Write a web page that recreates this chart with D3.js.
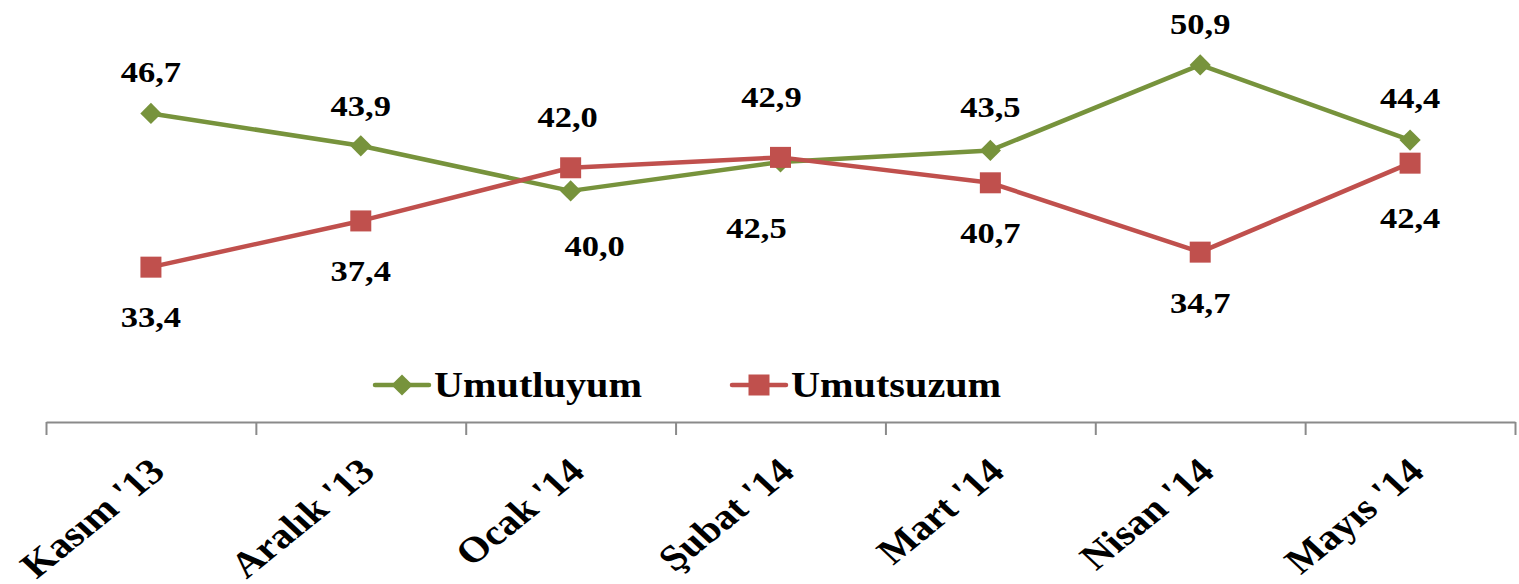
<!DOCTYPE html>
<html>
<head>
<meta charset="utf-8">
<script src="https://cdn.jsdelivr.net/npm/d3@7"></script>
<style>
  body { margin: 0; background: #fff; }
  text { font-family: "Liberation Serif", "Times New Roman", serif; font-weight: bold; fill: #000; }
</style>
</head>
<body>
<div id="chart-area"></div>
<script>
// data
var months = ["Kasım '13", "Aralık '13", "Ocak '14", "Şubat '14", "Mart '14", "Nisan '14", "Mayıs '14"];
var umutluyum = [46.7, 43.9, 40.0, 42.5, 43.5, 50.9, 44.4];
var umutsuzum = [33.4, 37.4, 42.0, 42.9, 40.7, 34.7, 42.4];
var seriesNames = ["Umutluyum", "Umutsuzum"];

// label placement (dx, dy from point)
var greenLabelPos = [[0, -31], [0, -30], [24, 65], [-24, 76], [0, -33], [0, -31], [0, -32]];
var redLabelPos = [[0, 60], [0, 60], [-3, -41], [-9, -50], [0, 60], [0, 61], [0, 65]];

var width = 1519, height = 584;
var axisY = 422;
var stretch = 1.15;

var svg = d3.select("#chart-area")
    .append("svg")
    .attr("width", width)
    .attr("height", height);

var x = d3.scalePoint()
    .domain(months)
    .range([46, 1515])
    .padding(0.5);

var xEdges = d3.scaleLinear()
    .domain([0, months.length])
    .range([46, 1515]);

var y = d3.scaleLinear()
    .domain([20, 56])
    .range([axisY, 6]);

// x axis with ticks between categories
var axisCall = d3.axisBottom(xEdges)
    .tickValues(d3.range(months.length + 1))
    .tickSize(13)
    .tickSizeOuter(0)
    .tickFormat("");
var ax = svg.append("g")
    .attr("class", "x axis")
    .attr("transform", "translate(0," + axisY + ")")
    .call(axisCall);
ax.selectAll("path, line").attr("stroke", "#8a8a8a").attr("stroke-width", 2);

svg.append("g")
    .selectAll("text")
    .data(months)
    .enter()
    .append("text")
    .attr("text-anchor", "end")
    .attr("transform", d => "translate(" + (x(d) + 16) + ",474) scale(" + stretch + ",1) rotate(-43)")
    .attr("style", "font-size: 36px")
    .text(d => d);

var series = [
    { name: seriesNames[0], values: umutluyum, color: "#77933C", symbol: "diamond", pos: greenLabelPos },
    { name: seriesNames[1], values: umutsuzum, color: "#C0504D", symbol: "square", pos: redLabelPos }
];

var line = d3.line()
    .x((d, i) => x(months[i]))
    .y(d => y(d));

function marker(g, type, color) {
    if (type == "diamond") {
        g.append("rect")
            .attr("x", -7.5).attr("y", -7.5)
            .attr("width", 15).attr("height", 15)
            .attr("transform", "rotate(45)")
            .attr("fill", color);
    } else {
        g.append("rect")
            .attr("x", -10.5).attr("y", -10.5)
            .attr("width", 21).attr("height", 21)
            .attr("fill", color);
    }
}

series.forEach(s => {
    svg.append("path")
        .attr("d", line(s.values))
        .attr("fill", "none")
        .attr("stroke", s.color)
        .attr("stroke-width", 4.5)
        .attr("stroke-linejoin", "round");
});

series.forEach(s => {
    s.values.forEach((v, i) => {
        var m = svg.append("g")
            .attr("transform", "translate(" + x(months[i]) + "," + y(v) + ")");
        marker(m, s.symbol, s.color);
    });
});

series.forEach(s => {
    svg.append("g")
        .selectAll("text")
        .data(s.values)
        .enter()
        .append("text")
        .attr("text-anchor", "middle")
        .attr("transform", (d, i) => "translate(" + (x(months[i]) + s.pos[i][0]) + "," + (y(d) + s.pos[i][1]) + ") scale(" + stretch + ",1)")
        .attr("style", "font-size: 30px")
        .text(d => d.toFixed(1).replace(".", ","));
});

// legend
var legendX = [375, 732];
series.forEach((s, k) => {
    var lg = svg.append("g")
        .attr("transform", "translate(" + legendX[k] + ",385)");
    lg.append("line")
        .attr("x1", 0).attr("x2", 54)
        .attr("stroke", s.color)
        .attr("stroke-width", 4.5)
        .attr("stroke-linecap", "round");
    var mk = lg.append("g").attr("transform", "translate(27,0)");
    marker(mk, s.symbol, s.color);
    lg.append("text")
        .attr("transform", "translate(59,12) scale(" + stretch + ",1)")
        .attr("style", "font-size: 35px")
        .text(s.name);
});
</script>
</body>
</html>
